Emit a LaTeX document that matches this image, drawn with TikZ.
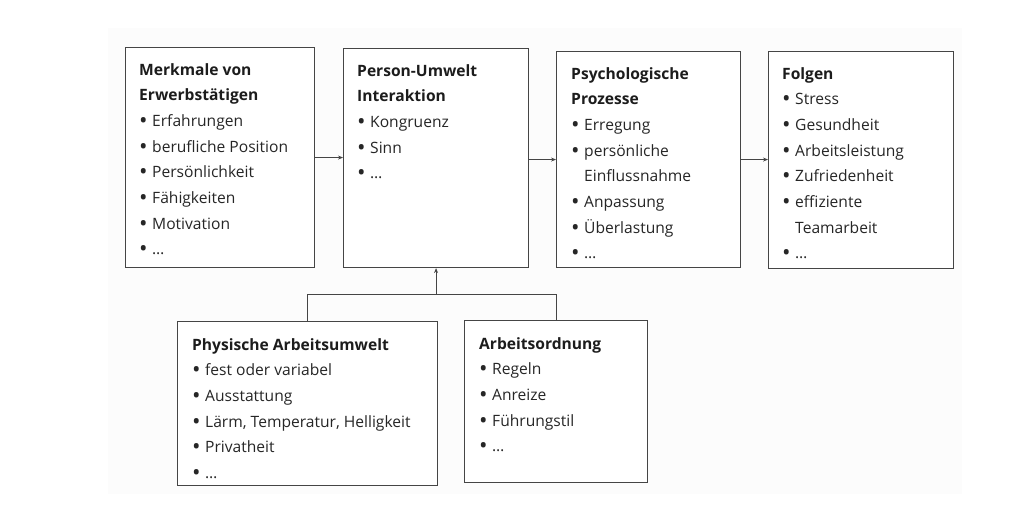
\documentclass[tikz,border=0pt]{standalone}
\usepackage{fontspec}
\setmainfont{Open Sans}
\usetikzlibrary{arrows.meta, positioning, calc}
\definecolor{framecolor}{HTML}{454545}
\definecolor{bodytext}{HTML}{262626}
\definecolor{headtext}{HTML}{1C1C1C}
\definecolor{scangray}{HTML}{FCFCFC}

\newcommand{\bul}{\makebox[13pt][l]{\raisebox{-0.12em}{\scalebox{1.45}{\textbullet}}}}
\newcommand{\cont}{\hspace*{13pt}}
\newcommand{\head}[1]{{\bfseries\color{headtext}#1}}

\begin{document}
\begin{tikzpicture}[x=1pt, y=-1pt,
    frame/.style={rectangle, draw=framecolor, line width=1.1pt, fill=white,
                  anchor=north west, inner sep=0pt},
    boxtext/.style={anchor=north west, align=left, inner sep=0pt, text=bodytext,
                    font=\fontsize{15.6}{25.7}\selectfont},
    arrow/.style={-{Stealth[length=5pt, width=4pt]}, line width=0.8pt, draw=framecolor},
    link/.style={line width=0.9pt, draw=framecolor}
]
\useasboundingbox (0,0) rectangle (1036,520);
\fill[scangray] (108,28) rectangle (962,494);

% Upper row of boxes
\node[frame, minimum width=189pt, minimum height=220pt] (merkmale) at (125,47) {};
\node[frame, minimum width=185pt, minimum height=219pt] (interaktion) at (343,48) {};
\node[frame, minimum width=184pt, minimum height=216pt] (prozesse) at (556,51) {};
\node[frame, minimum width=185pt, minimum height=217pt] (folgen) at (768,51) {};

% Lower row of boxes
\node[frame, minimum width=260pt, minimum height=164pt] (umwelt) at (177,321) {};
\node[frame, minimum width=183pt, minimum height=162pt] (ordnung) at (464,320) {};

% Box contents
\node[boxtext] (merkmaletxt) at ([xshift=14pt, yshift=-16pt]merkmale.north west)
    {\head{Merkmale von}\\\head{Erwerbstätigen}\\\bul Erfahrungen\\\bul berufliche Position\\
     \bul Persönlichkeit\\\bul Fähigkeiten\\\bul Motivation\\\bul \dots};
\node[boxtext] (interaktiontxt) at ([xshift=14pt, yshift=-16pt]interaktion.north west)
    {\head{Person-Umwelt}\\\head{Interaktion}\\\bul Kongruenz\\\bul Sinn\\\bul \dots};
\node[boxtext] (prozessetxt) at ([xshift=15pt, yshift=-16pt]prozesse.north west)
    {\head{Psychologische}\\\head{Prozesse}\\\bul Erregung\\\bul persönliche\\\cont Einflussnahme\\
     \bul Anpassung\\\bul Überlastung\\\bul \dots};
\node[boxtext] (folgentxt) at ([xshift=14pt, yshift=-16pt]folgen.north west)
    {\head{Folgen}\\\bul Stress\\\bul Gesundheit\\\bul Arbeitsleistung\\\bul Zufriedenheit\\
     \bul effiziente\\\cont Teamarbeit\\\bul \dots};
\node[boxtext] (umwelttxt) at ([xshift=15pt, yshift=-17pt]umwelt.north west)
    {\head{Physische Arbeitsumwelt}\\\bul fest oder variabel\\\bul Ausstattung\\
     \bul Lärm, Temperatur, Helligkeit\\\bul Privatheit\\\bul \dots};
\node[boxtext] (ordnungtxt) at ([xshift=15pt, yshift=-17pt]ordnung.north west)
    {\head{Arbeitsordnung}\\\bul Regeln\\\bul Anreize\\\bul Führungstil\\\bul \dots};

% Main flow arrows
\draw[arrow] (merkmale.east) -- (merkmale.east -| interaktion.west);
\draw[arrow] (prozesse.west -| interaktion.east) -- (prozesse.west);
\draw[arrow] (prozesse.east) -- (prozesse.east -| folgen.west);

% Work environment feeding the interaction
\coordinate (junction) at ($(interaktion.south)+(0,26)$);
\draw[link] (umwelt.north) |- (junction) -| (ordnung.north);
\draw[arrow] (junction) -- (interaktion.south);

\end{tikzpicture}
\end{document}
